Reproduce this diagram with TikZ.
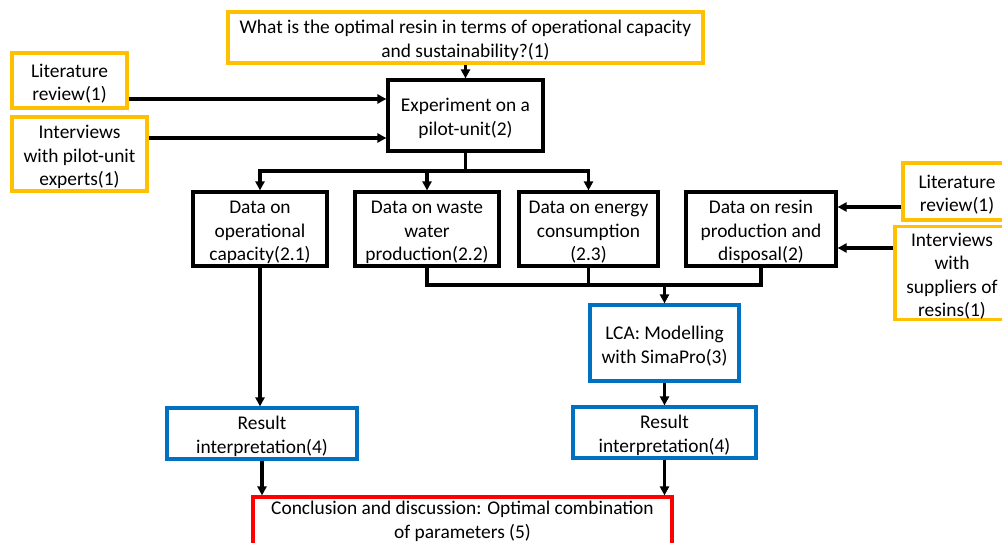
\documentclass[tikz,border=0pt]{standalone}
\usepackage{fontspec}
\setmainfont{Carlito}
\usetikzlibrary{arrows.meta,calc}
\definecolor{boxgold}{HTML}{FFC000}
\definecolor{boxblue}{HTML}{0070C0}
\definecolor{boxred}{HTML}{FF0000}
\tikzset{
  box/.style={draw, line width=3.2pt, inner sep=0pt, align=center,
    font=\fontsize{19.4}{23.5}\selectfont},
  blackbox/.style={box, draw=black},
  goldbox/.style={box, draw=boxgold},
  bluebox/.style={box, draw=boxblue},
  redbox/.style={box, draw=boxred},
  link/.style={line width=3.2pt},
  arr/.style={link, -{Triangle[length=9pt,width=9pt]}},
}
% style, name, cx, cy, width, height, text; a strut on the first line
% lowers the text block slightly inside its frame
\newcommand{\boxat}[7]{%
  \node[#1, minimum width=#5pt, minimum height=#6pt] (#2) at (#3,#4)
    {\rule{0pt}{19.5pt}#7};}
\begin{document}
\begin{tikzpicture}[x=1pt,y=-1pt]
\clip (0,0) rectangle (1002,543);
\useasboundingbox (0,0) rectangle (1002,543);

% question and main experiment
\boxat{goldbox}{Q}{465.5}{37.5}{475}{51}{What is the optimal resin in terms of operational capacity\\and sustainability?(1)}
\boxat{blackbox}{Exp}{465.5}{115.5}{155}{71}{Experiment on a\\pilot-unit(2)}

% inputs on the left
\boxat{goldbox}{Lit1}{69.5}{80.5}{115}{55}{Literature\\review(1)}
\boxat{goldbox}{Int1}{79.5}{154}{135}{74}{Interviews\\with pilot-unit\\experts(1)}

% data boxes
\boxat{blackbox}{D1}{260}{229}{134}{74}{Data on\\operational\\capacity(2.1)}
\boxat{blackbox}{D2}{427}{229}{144}{74}{Data on waste\\water\\production(2.2)}
\boxat{blackbox}{D3}{588.5}{229}{139}{74}{Data on energy\\consumption\\(2.3)}
\boxat{blackbox}{D4}{761}{229}{150}{74}{Data on resin\\production and\\disposal(2)}

% inputs on the right
\boxat{goldbox}{Lit2}{957}{191.5}{108}{57}{Literature\\review(1)}
\boxat{goldbox}{Int2}{952}{273}{114}{90}{Interviews\\with\\suppliers of\\resins(1)}

% LCA and interpretation
\boxat{bluebox}{LCA}{664.5}{343}{149}{76}{LCA: Modelling\\with SimaPro(3)}
\boxat{bluebox}{ResL}{262}{433.5}{190}{51}{Result\\interpretation(4)}
\boxat{bluebox}{ResR}{664.5}{432.5}{183}{51}{Result\\interpretation(4)}

% conclusion (its lower edge runs past the foot of the page)
\node[redbox, minimum width=419pt, minimum height=49pt] (Con) at (462.5,521.5)
  {Conclusion and discussion: Optimal combination\\of parameters (5)};

% connectors at the top
\draw[arr] (Q.south) -- (Exp.north);
\draw[arr] ([yshift=-18.5pt]Lit1.east) -- ([yshift=-18.5pt]Lit1.east -| Exp.west);
\draw[arr] ([yshift=16pt]Int1.east) -- ([yshift=16pt]Int1.east -| Exp.west);

% split into the data boxes
\coordinate (split) at (465.5,171);
\draw[link] (Exp.south) -- (split);
\draw[arr] (split) -| (D1.north);
\draw[arr] (split) -| (D3.north);
\draw[arr] (D2.north |- split) -- (D2.north);

% right inputs into resin data
\draw[arr] ([yshift=-15.5pt]Lit2.west) -- ([yshift=-15.5pt]Lit2.west -| D4.east);
\draw[arr] ([yshift=25pt]Int2.west) -- ([yshift=25pt]Int2.west -| D4.east);

% merge into LCA
\coordinate (merge) at (664.5,285);
\draw[link] (D2.south) |- (merge);
\draw[link] (D4.south) |- (merge);
\draw[link] (D3.south) -- (D3.south |- merge);
\draw[arr] (merge) -- (LCA.north);

% interpretation and conclusion
\draw[arr] (D1.south) -- (D1.south |- ResL.north);
\draw[arr] (LCA.south) -- (ResR.north);
\draw[arr] (ResL.south) -- (ResL.south |- Con.north);
\draw[arr] (ResR.south) -- (ResR.south |- Con.north);
\end{tikzpicture}
\end{document}
